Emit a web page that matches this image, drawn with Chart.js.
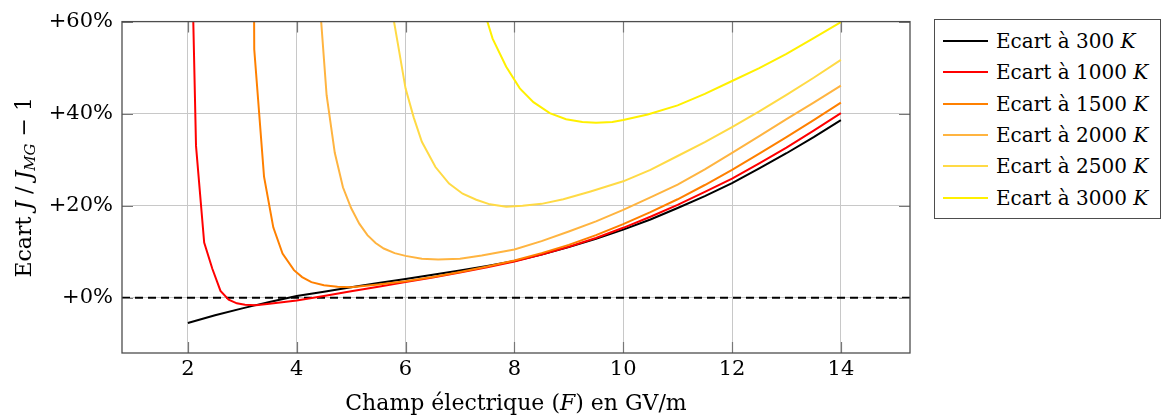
<!DOCTYPE html>
<html>
<head>
<meta charset="utf-8">
<script src="https://cdn.jsdelivr.net/npm/chart.js@4.4.0/dist/chart.umd.min.js"></script>
<style>
  html, body { margin: 0; padding: 0; background: #fff; }
  #wrap { position: relative; width: 1161px; height: 416px; font-family: "DejaVu Serif", serif; }
  #legend { position: absolute; left: 934px; top: 19px; width: 227px; height: 200px;
            border: 1px solid #4d4d4d; box-sizing: border-box; background: #fff; }
  .row { position: absolute; left: 0; right: 0; height: 24px; }
  .swatch { position: absolute; left: 8px; top: 11px; width: 45px; height: 2px; }
  .lbl { position: absolute; left: 61px; top: 0; font-size: 20px; line-height: 24px; color: #000; white-space: nowrap; }
</style>
</head>
<body>
<div id="wrap">
  <canvas id="chart" width="1161" height="416"></canvas>
  <div id="legend"></div>
</div>
<script>
// temperatures and colours of the curves
const temps = ['300', '1000', '1500', '2000', '2500', '3000'];
const colors = ['#000000', '#ff0000', '#ff8000', '#ffb440', '#ffda45', '#fff000'];

const xTicks = [2, 4, 6, 8, 10, 12, 14];
const yTicks = [0, 20, 40, 60];
const xMin = 0.79, xMax = 15.27;
const yMin = -12, yMax = 60;
const refValue = 0;

// 300 K
const x300 = [2, 2.5, 3, 3.25, 3.5, 4, 4.5, 5, 5.5, 6, 6.5, 7, 7.5, 8, 8.5, 9, 9.5, 10, 10.5, 11, 11.5, 12, 12.5, 13, 13.5, 14];
const y300 = [-5.5, -3.8, -2.3, -1.6, -0.9, 0.4, 1.3, 2.3, 3.2, 4.1, 5.0, 5.9, 6.9, 8.0, 9.4, 11.0, 12.8, 14.8, 17.0, 19.5, 22.1, 24.9, 28.1, 31.4, 34.9, 38.6];
// 1000 K
const x1000 = [2, 2.15, 2.3, 2.45, 2.6, 2.75, 2.9, 3.05, 3.25, 3.5, 4, 4.5, 5, 5.5, 6, 6.5, 7, 7.5, 8, 8.5, 9, 9.5, 10, 10.5, 11, 11.5, 12, 12.5, 13, 13.5, 14];
const y1000 = [114, 33, 12, 6.3, 1.5, -0.4, -1.2, -1.5, -1.6, -1.3, -0.6, 0.4, 1.4, 2.4, 3.4, 4.4, 5.5, 6.6, 7.9, 9.4, 11.1, 13.0, 15.2, 17.6, 20.2, 23.0, 25.9, 29.2, 32.6, 36.3, 40.1];
// 1500 K
const x1500 = [3.05, 3.22, 3.4, 3.57, 3.74, 3.95, 4.1, 4.27, 4.5, 4.75, 5, 5.5, 6, 6.5, 7, 7.5, 8, 8.5, 9, 9.5, 10, 10.5, 11, 11.5, 12, 12.5, 13, 13.5, 14];
const y1500 = [500, 54, 26.3, 15.3, 9.6, 6.0, 4.5, 3.4, 2.7, 2.4, 2.3, 2.9, 3.6, 4.5, 5.6, 6.8, 8.1, 9.7, 11.5, 13.6, 16.0, 18.6, 21.4, 24.5, 27.8, 31.3, 34.9, 38.6, 42.4];
// 2000 K
const x2000 = [4.4, 4.55, 4.7, 4.85, 5.0, 5.15, 5.3, 5.45, 5.6, 5.8, 6.0, 6.3, 6.6, 7.0, 7.4, 8, 8.5, 9, 9.5, 10, 10.5, 11, 11.5, 12, 12.5, 13, 13.5, 14];
const y2000 = [68, 44, 31.5, 24.0, 19.5, 16.1, 13.6, 11.9, 10.7, 9.7, 9.1, 8.5, 8.3, 8.5, 9.2, 10.5, 12.3, 14.4, 16.6, 19.1, 21.8, 24.6, 27.9, 31.5, 35.1, 38.8, 42.4, 46.1];
// 2500 K
const x2500 = [5.7, 5.85, 6.0, 6.15, 6.3, 6.55, 6.8, 7.05, 7.3, 7.55, 7.85, 8.15, 8.5, 8.9, 9.4, 10, 10.5, 11, 11.5, 12, 12.5, 13, 13.5, 14];
const y2500 = [66, 55.8, 45.5, 39.2, 33.9, 28.4, 24.8, 22.6, 21.3, 20.3, 19.8, 20.0, 20.4, 21.4, 23.1, 25.3, 27.8, 30.8, 33.8, 37.1, 40.5, 44.1, 47.8, 51.7];
// 3000 K
const x3000 = [7.4, 7.6, 7.85, 8.1, 8.35, 8.65, 8.95, 9.25, 9.5, 9.8, 10, 10.45, 11, 11.5, 12, 12.5, 13, 13.5, 14];
const y3000 = [64, 56.3, 50.2, 45.5, 42.5, 40.1, 38.8, 38.2, 38.0, 38.2, 38.6, 39.8, 41.8, 44.3, 47.1, 49.9, 53.0, 56.4, 59.9];

const xs = [x300, x1000, x1500, x2000, x2500, x3000];
const ys = [y300, y1000, y1500, y2000, y2500, y3000];

const FONT = '"DejaVu Serif"';
const R = '22px ' + FONT, I = 'italic 22px ' + FONT, S = 'italic 15px ' + FONT;

function drawRich(ctx, parts, x, y) {
  let w = 0;
  parts.forEach(p => { ctx.font = p[1]; w += ctx.measureText(p[0]).width; });
  let cx = x - w / 2;
  parts.forEach(p => {
    ctx.font = p[1];
    ctx.fillText(p[0], cx, y + (p[2] || 0));
    cx += ctx.measureText(p[0]).width;
  });
}

const framePlugin = {
  id: 'frame',
  beforeDatasetsDraw(chart) {
    const { ctx, chartArea: a, scales } = chart;
    const y0 = scales.y.getPixelForValue(refValue);
    ctx.save();
    ctx.strokeStyle = '#000';
    ctx.lineWidth = 2;
    ctx.setLineDash([8, 5]);
    ctx.beginPath();
    ctx.moveTo(a.left, y0);
    ctx.lineTo(a.right, y0);
    ctx.stroke();
    ctx.restore();
  },
  afterDatasetsDraw(chart) {
    const { ctx, chartArea: a, scales } = chart;
    ctx.save();
    ctx.strokeStyle = '#777';
    ctx.lineWidth = 1.2;
    ctx.beginPath();
    xTicks.forEach(v => {
      const px = Math.round(scales.x.getPixelForValue(v)) + 0.5;
      ctx.moveTo(px, a.bottom); ctx.lineTo(px, a.bottom - 11);
      ctx.moveTo(px, a.top); ctx.lineTo(px, a.top + 11);
    });
    yTicks.forEach(v => {
      const py = Math.round(scales.y.getPixelForValue(v)) + 0.5;
      ctx.moveTo(a.left, py); ctx.lineTo(a.left + 11, py);
      ctx.moveTo(a.right, py); ctx.lineTo(a.right - 11, py);
    });
    ctx.stroke();
    ctx.strokeStyle = '#4d4d4d';
    ctx.lineWidth = 1.3;
    ctx.strokeRect(a.left, a.top, a.right - a.left, a.bottom - a.top);

    // axis titles
    ctx.fillStyle = '#000';
    ctx.textBaseline = 'alphabetic';
    ctx.textAlign = 'left';
    drawRich(ctx, [['Champ électrique (', R], ['F', I], [') en GV/m', R]], (a.left + a.right) / 2, 410);
    ctx.translate(31, (a.top + a.bottom) / 2);
    ctx.rotate(-Math.PI / 2);
    drawRich(ctx, [['Ecart ', R], ['J', I], [' / ', R], ['J', I], ['MG', S, 4], [' − 1', R]], 0, 0);
    ctx.restore();
  }
};

const datasets = temps.map((t, i) => ({
  label: 'Ecart à ' + t + ' K',
  data: xs[i].map((x, j) => ({ x: x, y: ys[i][j] })),
  borderColor: colors[i],
  backgroundColor: colors[i],
  borderWidth: 2,
  pointRadius: 0,
  tension: 0,
  fill: false,
  order: temps.length - i
}));

new Chart(document.getElementById('chart'), {
  type: 'line',
  data: { datasets },
  options: {
    responsive: false,
    animation: false,
    layout: { padding: { left: 0, right: 251, top: 19, bottom: 0 } },
    plugins: { legend: { display: false }, tooltip: { enabled: false } },
    scales: {
      x: {
        type: 'linear', min: xMin, max: xMax,
        afterBuildTicks: s => { s.ticks = xTicks.map(v => ({ value: v })); },
        afterFit: s => { s.height = 63; },
        grid: { color: '#c8c8c8', lineWidth: 1, drawTicks: false },
        border: { display: false },
        ticks: { padding: 4, color: '#000', font: { family: 'DejaVu Serif', size: 21 }, maxRotation: 0, autoSkip: false }
      },
      y: {
        type: 'linear', min: yMin, max: yMax,
        afterBuildTicks: s => { s.ticks = yTicks.map(v => ({ value: v })); },
        afterFit: s => { s.width = 122; },
        grid: { color: '#c8c8c8', lineWidth: 1, drawTicks: false },
        border: { display: false },
        ticks: { padding: 9, color: '#000', font: { family: 'DejaVu Serif', size: 21 },
                 callback: v => '+' + v + '%' }
      }
    }
  },
  plugins: [framePlugin]
});

// legend
const legend = document.getElementById('legend');
temps.forEach((t, i) => {
  const row = document.createElement('div');
  row.className = 'row';
  row.style.top = (9 + i * 31.3) + 'px';
  row.innerHTML = '<div class="swatch" style="background:' + colors[i] + '"></div>' +
    '<div class="lbl">Ecart à ' + t + ' <i>K</i></div>';
  legend.appendChild(row);
});
</script>
</body>
</html>
